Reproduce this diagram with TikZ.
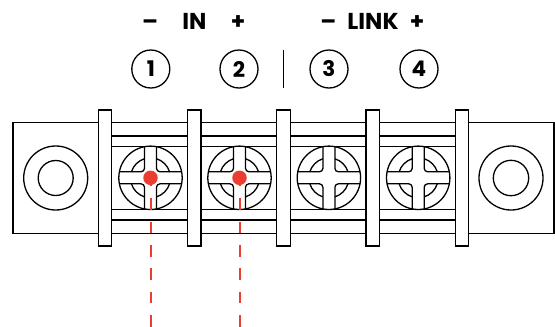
\documentclass[tikz,border=0pt]{standalone}
\usepackage{fontspec}
\setmainfont{Poppins}
\definecolor{pinred}{RGB}{234,62,50}
\begin{document}
\begin{tikzpicture}[x=1pt,y=-1pt,line width=1.3pt,
  part/.style={draw=black,fill=white,line width=1.3pt},
  lbl/.style={font=\bfseries\fontsize{23}{23}\selectfont,inner sep=0pt,anchor=base},
  num/.style={circle,draw,line width=1.3pt,minimum size=38pt,inner sep=0pt,font=\bfseries\fontsize{21.5}{21.5}\selectfont},
  screwbody/.style={circle,draw,line width=1.3pt,minimum size=63.4pt,inner sep=0pt},
  pindot/.style={circle,fill=pinred,minimum size=14.5pt,inner sep=0pt},
  wire/.style={draw=pinred,line width=2pt,dash pattern=on 11.7pt off 11.7pt,dash phase=3.1pt}]
\useasboundingbox (0,0) rectangle (555,327);
% rails
\foreach \yy in {122.7,136,146.5,209.5,220,233.3}
  \draw (104,\yy) -- (462,\yy);
% end plates
\draw[part] (13,122.7) rectangle (104,233.3);
\draw[part] (462,122.7) rectangle (554,233.3);
\node[circle,draw,minimum size=64pt,inner sep=0pt] (lo) at (55.7,178) {};
\node[circle,draw,minimum size=35pt,inner sep=0pt] (li) at (55.7,178) {};
\node[circle,draw,minimum size=64pt,inner sep=0pt] (ro) at (511,178) {};
\node[circle,draw,minimum size=35.4pt,inner sep=0pt] (ri) at (511,178) {};
% barriers
\foreach \bx in {104.9,194.2,283.5,372.8,462.1}
  \draw[part] (\bx-6.7,110) rectangle (\bx+6.7,246);
% screws
\foreach \sx [count=\i] in {150.5,239.5,328.9,418.2} {
  \node[screwbody] (s\i) at (\sx,177.8) {};
  \begin{scope}[shift={(\sx,177.8)}]
    \foreach \a/\b in {1/1,-1/1,1/-1,-1/-1}
      \draw[rounded corners=3.5pt] ({\a*6},{\b*31.1}) -- ({\a*6},{\b*6}) -- ({\a*31.1},{\b*6});
    \foreach \t in {0,90,180,270}
      \draw ({\t+17.46}:20) arc[start angle=\t+17.46,end angle=\t+72.54,radius=20];
  \end{scope}
}
% wires
\foreach \i in {1,2} {
  \coordinate (e\i) at (s\i.center |- 0,327);
  \draw[wire] (s\i.center) -- (e\i);
  \node[pindot] (d\i) at (s\i.center) {};
}
% labels
\node[lbl] (m1) at (150,29.3) {–};
\node[lbl] (in) at (194.5,29.3) {IN};
\node[lbl] (p1) at (238,29.3) {+};
\node[lbl] (m2) at (328.3,29.3) {–};
\node[lbl] (link) at (373,29.3) {LINK};
\node[lbl] (p2) at (417.2,29.3) {+};
\node[num] (n1) at (150.8,69) {1};
\node[num] (n2) at (239,69) {2};
\node[num] (n3) at (329,69) {3};
\node[num] (n4) at (419,69) {4};
\draw[line width=1.5pt] (283.3,50) -- (283.3,88);
\end{tikzpicture}
\end{document}
